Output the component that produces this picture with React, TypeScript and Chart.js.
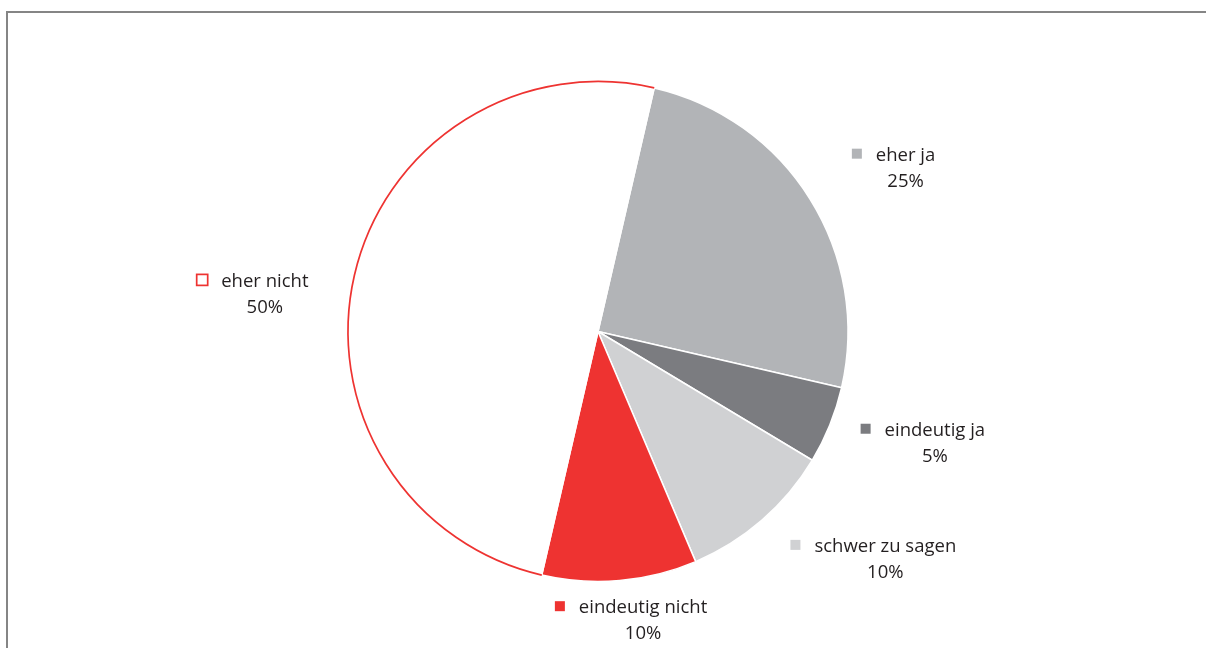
import React, { useEffect, useRef } from "react";
import { Chart, registerables } from "chart.js";

Chart.register(...registerables);

const categories = ["eher ja", "eindeutig ja", "schwer zu sagen", "eindeutig nicht", "eher nicht"];
const values = [25, 5, 10, 10, 50];
const percentLabels = ["25%", "5%", "10%", "10%", "50%"];
const fillColors = ["#b2b4b7", "#7b7c80", "#d0d1d3", "#ee3331", "#ffffff"];
const outlinedSlices = [false, false, false, false, true];

const RED = "#ee3331";
const TEXT = "#231f20";
const FONT = "18.5px 'Open Sans', sans-serif";

// layout nudges for label blocks (relative to default anchor on the mid angle)
const labelNudges: [number, number][] = [
  [3, 19],
  [5, -18],
  [49, -33],
  [3, -55],
  [-9, 40],
];

const labelPlugin = {
  id: "sliceLabels",
  afterDatasetsDraw(chart: any) {
    const ctx = chart.ctx;
    const meta = chart.getDatasetMeta(0);
    ctx.save();
    meta.data.forEach((arc: any, i: number) => {
      if (!outlinedSlices[i]) return;
      const p = arc.getProps(["x", "y", "startAngle", "endAngle", "outerRadius"], true);
      ctx.beginPath();
      ctx.arc(p.x, p.y, p.outerRadius, p.startAngle, p.endAngle);
      ctx.strokeStyle = RED;
      ctx.lineWidth = 1.7;
      ctx.stroke();
    });
    ctx.font = FONT;
    ctx.textBaseline = "middle";
    meta.data.forEach((arc: any, i: number) => {
      const p = arc.getProps(["x", "y", "startAngle", "endAngle", "outerRadius"], true);
      const mid = (p.startAngle + p.endAngle) / 2;
      const r = p.outerRadius * 1.38;
      const cx = p.x + Math.cos(mid) * r + labelNudges[i][0];
      const cy = p.y + Math.sin(mid) * r + labelNudges[i][1];
      const name = categories[i];
      const tw = ctx.measureText(name).width;
      const sq = 10;
      const gap = 14;
      const w = sq + gap + tw;
      const left = cx - w / 2;
      const y1 = cy - 13;
      const y2 = cy + 13;
      const textX = left + sq + gap;
      if (outlinedSlices[i]) {
        ctx.strokeStyle = RED;
        ctx.lineWidth = 1.7;
        ctx.strokeRect(left - 0.5, y1 - 6 - 0.5, 11, 11);
      } else {
        ctx.fillStyle = fillColors[i];
        ctx.fillRect(left, y1 - 6, sq, sq);
      }
      ctx.fillStyle = TEXT;
      ctx.textAlign = "left";
      ctx.fillText(name, textX, y1 + 1);
      ctx.textAlign = "center";
      ctx.fillText(percentLabels[i], textX + tw / 2, y2 + 1);
    });
    ctx.restore();
  },
};

export default function App() {
  const canvasRef = useRef<HTMLCanvasElement | null>(null);

  useEffect(() => {
    document.body.style.margin = "0";
    const canvas = canvasRef.current;
    if (!canvas) return;
    const chart = new Chart(canvas, {
      type: "pie",
      data: {
        labels: categories,
        datasets: [
          {
            data: values,
            backgroundColor: fillColors,
            borderColor: "#ffffff",
            borderWidth: 1.5,
            radius: 250,
          } as any,
        ],
      },
      options: {
        animation: false,
        responsive: true,
        maintainAspectRatio: false,
        rotation: 13,
        layout: { padding: { top: 15, left: 0, right: 10, bottom: 0 } },
        plugins: {
          legend: { display: false },
          tooltip: { enabled: false },
        },
      } as any,
      plugins: [labelPlugin],
    });
    return () => chart.destroy();
  }, []);

  return (
    <div style={{ position: "fixed", left: 0, top: 0, width: 1206, height: 648, background: "#ffffff", overflow: "hidden" }}>
      <div
        style={{
          position: "absolute",
          left: 6,
          top: 11,
          width: 1300,
          height: 700,
          borderTop: "2px solid #858585",
          borderLeft: "2px solid #858585",
        }}
      />
      <div style={{ position: "absolute", left: 0, top: 0, width: 1206, height: 648 }}>
        <canvas ref={canvasRef} />
      </div>
    </div>
  );
}
